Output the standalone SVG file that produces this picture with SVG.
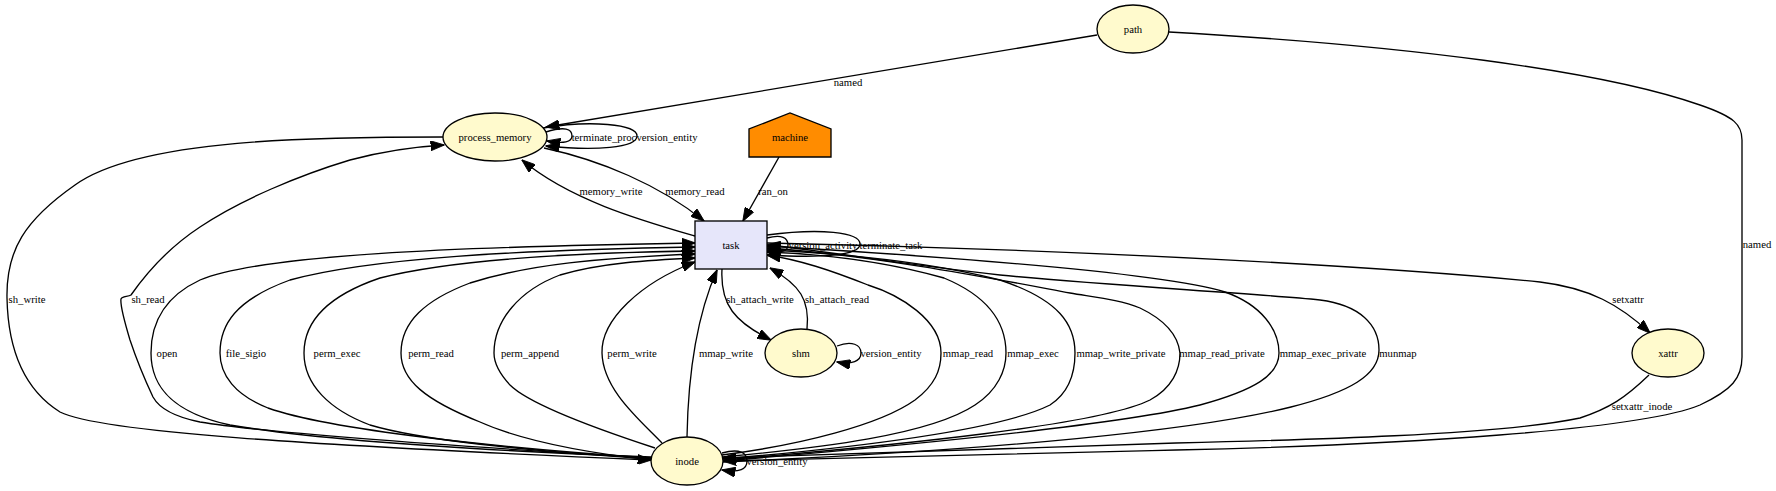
<svg xmlns="http://www.w3.org/2000/svg" width="1776" height="491" viewBox="0 0 1776 491">
<defs>
<marker id="arr" markerUnits="userSpaceOnUse" markerWidth="14" markerHeight="10" viewBox="0 0 13 9.4" refX="12.5" refY="4.7" orient="auto">
<path d="M0,0 L13,4.7 L0,9.4 z" fill="#000" stroke="#000" stroke-width="0.8"/>
</marker>
</defs>
<style>
text{font-family:"Liberation Serif","Times New Roman",serif;font-size:10.7px;fill:#000;}
.n text{text-anchor:middle;}
.e text{text-anchor:middle;}
.ent{fill:#fffacd;stroke:#000;stroke-width:1.33;}
.act{fill:#e6e6fa;stroke:#000;stroke-width:1.33;}
.agt{fill:#ff8c00;stroke:#000;stroke-width:1.33;}
.e path{fill:none;stroke:#000;stroke-width:1.33;}
.a{marker-end:url(#arr);}
</style>
<rect width="1776" height="491" fill="#fff"/>

<g id="edges">
<g class="e" id="e-path-pm"><path class="a" d="M1097,35 L546,127"/><text x="848" y="85.5">named</text></g>
<g class="e" id="e-path-inode"><path class="a" d="M1169,32 C1400,45 1600,70 1700,105 C1735,117 1742,125 1742,140 L1742,357 C1742,378 1732,390 1700,405 C1640,430 1400,445 1176,450 C1000,454 820,458 723,461"/><text x="1757" y="247.5">named</text></g>
<g class="e" id="e-pm-term"><path class="a" d="M546,132 C565,126 572,129 572,136 C572,142 564,144 547,141"/><text x="604" y="140.5">terminate_proc</text></g>
<g class="e" id="e-pm-ver"><path class="a" d="M543,128 C590,120 637,124 637,136 C637,148 595,151 546,146"/><text x="667" y="140.5">version_entity</text></g>
<g class="e" id="e-pm-task"><path class="a" d="M544,148 C600,160 660,185 704,221"/><text x="695" y="194.5">memory_read</text></g>
<g class="e" id="e-task-pm"><path class="a" d="M695,236 C640,220 570,200 522,160"/><text x="611" y="194.5">memory_write</text></g>
<g class="e" id="e-machine-task"><path class="a" d="M779,157 L743,221"/><text x="773" y="194.5">ran_on</text></g>
<g class="e" id="e-task-ver"><path class="a" d="M767,238 C782,234 788,238 788,245 C788,251 782,253 767,252"/><text x="823" y="248.5">version_activity</text></g>
<g class="e" id="e-task-term"><path class="a" d="M767,235 C820,228 860,232 860,244 C860,256 820,258 767,255"/><text x="891" y="248.5">terminate_task</text></g>
<g class="e" id="e-task-shm"><path class="a" d="M722,269 C720,305 735,322 771,340"/><text x="760" y="302.5">sh_attach_write</text></g>
<g class="e" id="e-shm-task"><path class="a" d="M807,329 C810,300 800,285 770,268"/><text x="837" y="302.5">sh_attach_read</text></g>
<g class="e" id="e-shm-ver"><path class="a" d="M837,346 C852,340 861,345 861,353 C861,361 852,365 837,362"/><text x="891" y="356.5">version_entity</text></g>
<g class="e" id="e-inode-ver"><path class="a" d="M722,453 C740,448 747,453 747,461 C747,469 740,473 722,470"/><text x="777" y="464.5">version_entity</text></g>
<g class="e" id="e-pm-inode"><path class="a" d="M443,137 C320,137 140,138 75,185 C25,220 6,250 7,298 C8,350 25,390 60,412 C100,432 300,445 651,460"/><text x="27" y="302.5">sh_write</text></g>
<g class="e" id="e-inode-pm"><path class="a" d="M651,458 C450,446 260,432 200,422 C170,416 158,406 153,397 C145,380 135,355 130,340 C124,320 120,305 121,299 C122,296 128,297 131,295 C145,275 165,250 200,227 C240,200 300,175 350,160 C380,152 410,147 444,145"/><text x="148" y="302.5">sh_read</text></g>
<g class="e" id="e-open"><path class="a" d="M651,457 C520,452 330,442 230,425 C170,412 151,385 151,353 C151,318 168,295 200,280 C260,255 450,247 695,243"/><text x="167" y="356.5">open</text></g>
<g class="e" id="e-file_sigio"><path class="a" d="M651,458 C500,448 330,430 268,408 C235,395 220,375 220,353 C220,325 235,300 290,280 C370,258 520,250 695,247"/><text x="246" y="356.5">file_sigio</text></g>
<g class="e" id="e-perm_exec"><path class="a" d="M651,459 C520,450 420,440 370,425 C330,410 304,385 304,353 C304,320 330,295 380,278 C450,260 560,253 695,251"/><text x="337" y="356.5">perm_exec</text></g>
<g class="e" id="e-perm_read"><path class="a" d="M651,460 C580,452 520,440 480,422 C425,400 401,380 401,353 C401,322 425,300 470,283 C530,264 600,258 695,254"/><text x="431" y="356.5">perm_read</text></g>
<g class="e" id="e-perm_append"><path class="a" d="M655,448 C600,430 530,405 510,385 C498,372 494,362 494,353 C494,320 520,290 560,275 C600,263 650,260 695,258"/><text x="530" y="356.5">perm_append</text></g>
<g class="e" id="e-perm_write"><path class="a" d="M662,443 C640,420 603,390 602,353 C601,320 640,283 695,262"/><text x="632" y="356.5">perm_write</text></g>
<g class="e" id="e-mmap_write"><path class="a" d="M687,437 C688,380 695,320 717,270"/><text x="726" y="356.5">mmap_write</text></g>
<g class="e" id="e-mmap_read"><path class="a" d="M722,455 C800,445 880,425 915,400 C935,385 941,370 941,353 C941,320 900,295 868,285 C830,270 800,260 767,255"/><text x="968" y="356.5">mmap_read</text></g>
<g class="e" id="e-mmap_exec"><path class="a" d="M722,457 C820,448 930,435 975,405 C998,390 1006,370 1006,353 C1006,320 985,295 944,278 C880,260 820,254 767,252"/><text x="1033" y="356.5">mmap_exec</text></g>
<g class="e" id="e-mmap_write_private"><path class="a" d="M723,459 C850,448 1000,430 1050,405 C1070,392 1075,372 1075,353 C1075,325 1060,300 1000,280 C930,262 850,254 767,250"/><text x="1121" y="356.5">mmap_write_private</text></g>
<g class="e" id="e-mmap_read_private"><path class="a" d="M723,460 C900,445 1100,425 1150,400 C1172,388 1180,370 1180,353 C1178,335 1165,320 1140,308 C1120,300 1100,298 1070,293 C1000,280 880,256 767,248"/><text x="1222" y="356.5">mmap_read_private</text></g>
<g class="e" id="e-mmap_exec_private"><path class="a" d="M723,461 C900,446 1120,425 1200,405 C1255,390 1279,375 1279,353 C1279,330 1262,305 1225,292 C1170,275 1000,260 767,246"/><text x="1323" y="356.5">mmap_exec_private</text></g>
<g class="e" id="e-munmap"><path class="a" d="M723,462 C1000,450 1200,430 1291,407 C1350,392 1379,375 1379,350 C1379,325 1360,305 1320,300 C1250,293 1100,285 1000,275 C900,264 820,250 767,245"/><text x="1398" y="356.5">munmap</text></g>
<g class="e" id="e-setxattr"><path class="a" d="M767,243 C1100,250 1400,268 1540,282 C1590,288 1620,305 1650,333"/><text x="1628" y="302.5">setxattr</text></g>
<g class="e" id="e-setxattr_inode"><path class="a" d="M1649,375 C1625,398 1610,408 1580,418 C1500,435 1300,440 1176,443 C1000,449 850,454 723,458"/><text x="1642" y="409.5">setxattr_inode</text></g>
</g>

<g class="n" id="node-path"><ellipse class="ent" cx="1133" cy="29" rx="36" ry="24"/><text x="1133" y="32.5">path</text></g>
<g class="n" id="node-process_memory"><ellipse class="ent" cx="495" cy="137" rx="52" ry="24"/><text x="495" y="140.5">process_memory</text></g>
<g class="n" id="node-machine"><polygon class="agt" points="749,157 831,157 831,129 790,113 749,129"/><text x="790" y="140.5">machine</text></g>
<g class="n" id="node-task"><rect class="act" x="695" y="221" width="72" height="48"/><text x="731" y="248.5">task</text></g>
<g class="n" id="node-shm"><ellipse class="ent" cx="801" cy="353" rx="36" ry="24"/><text x="801" y="356.5">shm</text></g>
<g class="n" id="node-xattr"><ellipse class="ent" cx="1668" cy="353" rx="36" ry="24"/><text x="1668" y="356.5">xattr</text></g>
<g class="n" id="node-inode"><ellipse class="ent" cx="687" cy="461" rx="36" ry="24"/><text x="687" y="464.5">inode</text></g>
</svg>
